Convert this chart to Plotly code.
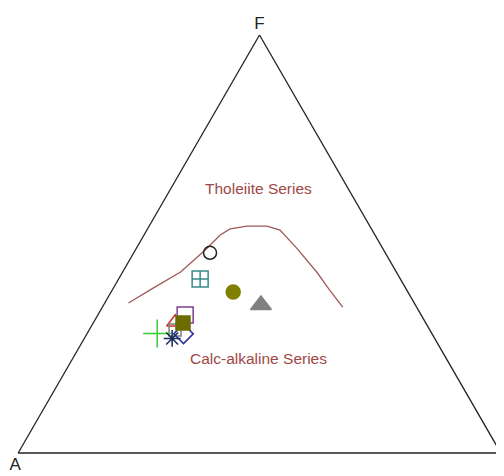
import plotly.graph_objects as go

# Boundary curve (Irvine & Baragar) in A, F, M fractions
curve_A = [0.592, 0.522, 0.447, 0.370, 0.321, 0.293, 0.254, 0.213, 0.191, 0.178, 0.165, 0.160, 0.153]
curve_F = [0.359, 0.395, 0.433, 0.486, 0.522, 0.536, 0.543, 0.543, 0.534, 0.490, 0.433, 0.390, 0.349]
curve_M = [0.049, 0.083, 0.120, 0.145, 0.158, 0.171, 0.203, 0.244, 0.276, 0.332, 0.402, 0.450, 0.498]

# Samples
sample_names = ["s1", "s2", "s3", "s4", "s5", "s6", "s7", "s8", "s9", "s10", "s11"]
sample_A = [0.363, 0.415, 0.362, 0.320, 0.489, 0.518, 0.528, 0.515, 0.569, 0.544, 0.503]
sample_F = [0.479, 0.416, 0.385, 0.354, 0.330, 0.313, 0.294, 0.285, 0.286, 0.274, 0.311]
sample_M = [0.158, 0.169, 0.253, 0.326, 0.181, 0.169, 0.178, 0.200, 0.145, 0.182, 0.186]
sample_symbols = ["circle-open", "square-cross-open", "circle", "triangle-up", "square-open",
                  "triangle-up-open", "square-open", "diamond-open", "cross-thin-open", "asterisk-open", "square"]
sample_colors = ["#222222", "#3a8a8a", "#808000", "#808080", "#7b3f8f",
                 "#d03030", "#808080", "#3030a0", "#33cc33", "#1a2a5a", "#6b6b00"]
sample_sizes = [13, 16, 14, 18, 16, 15, 12, 15, 20, 14, 14]

fig = go.Figure()
fig.add_trace(go.Scatterternary(
    a=curve_F, b=curve_A, c=curve_M, mode="lines",
    line=dict(color="#a05858", width=1.3), showlegend=False, hoverinfo="skip"))

for i in range(len(sample_names)):
    fig.add_trace(go.Scatterternary(
        a=[sample_F[i]], b=[sample_A[i]], c=[sample_M[i]], mode="markers",
        name=sample_names[i], showlegend=False,
        marker=dict(symbol=sample_symbols[i], color=sample_colors[i], size=sample_sizes[i],
                    line=dict(color=sample_colors[i], width=1.5))))

axis_common = dict(showticklabels=False, ticks="", showgrid=False,
                   linecolor="#222222", linewidth=1.3, min=0)
# page body has an 8px default margin, so the figure is 8px smaller and margins compensate
fig.update_layout(
    width=496, height=468,
    margin=dict(l=9, r=2, t=27, b=23, autoexpand=False),
    paper_bgcolor="white",
    font=dict(family="Liberation Sans, Arial", size=14, color="#222222"),
    ternary=dict(
        bgcolor="white",
        sum=1,
        aaxis=dict(title=dict(text="F"), **axis_common),
        baxis=dict(title=dict(text="A"), **axis_common),
        caxis=dict(title=dict(text="M"), **axis_common),
    ),
    annotations=[
        dict(text="Tholeiite Series", x=0.497, y=0.632, xref="paper", yref="paper",
             xanchor="center", yanchor="middle",
             showarrow=False, font=dict(size=15.5, color="#a04848")),
        dict(text="Calc-alkaline Series", x=0.497, y=0.227, xref="paper", yref="paper",
             xanchor="center", yanchor="middle",
             showarrow=False, font=dict(size=15.5, color="#a04848")),
    ],
)
fig.write_html("out.html")
